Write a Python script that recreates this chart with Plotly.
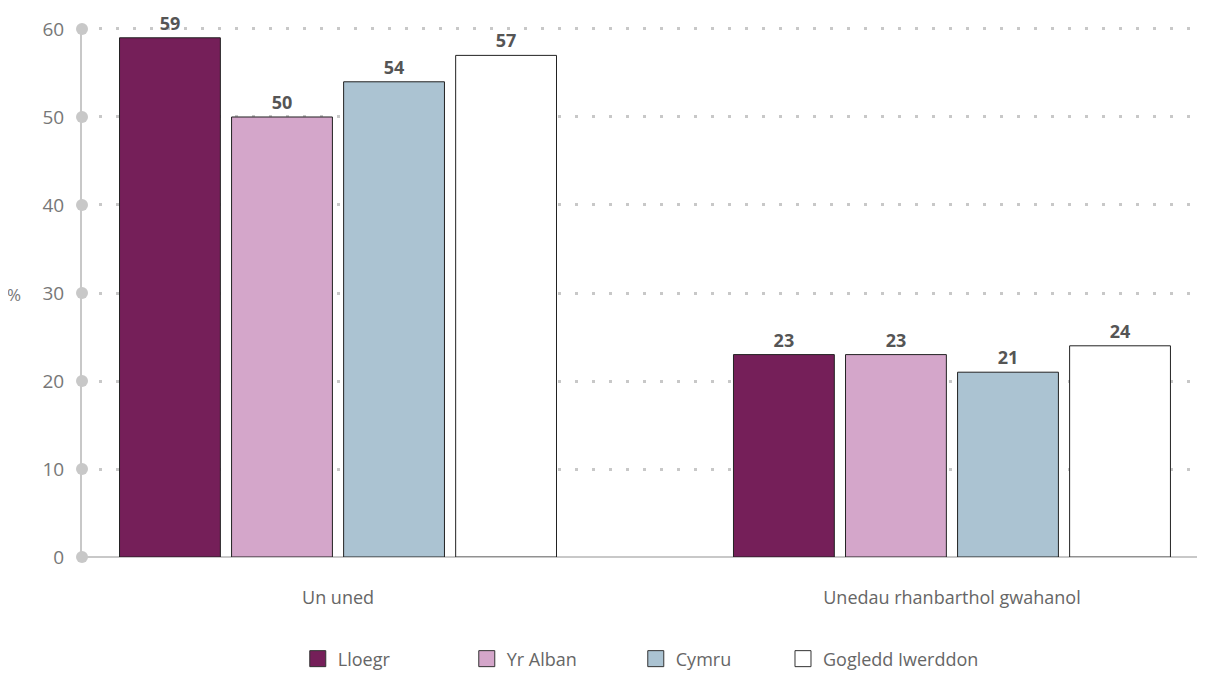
import plotly.graph_objects as go

categories = ["Un uned", "Unedau rhanbarthol gwahanol"]
series_names = ["Lloegr", "Yr Alban", "Cymru", "Gogledd Iwerddon"]
values = {
    "Lloegr": [59, 23],
    "Yr Alban": [50, 23],
    "Cymru": [54, 21],
    "Gogledd Iwerddon": [57, 24],
}
colors = {
    "Lloegr": "#751f59",
    "Yr Alban": "#d4a6ca",
    "Cymru": "#abc3d2",
    "Gogledd Iwerddon": "#ffffff",
}
y_ticks = [0, 10, 20, 30, 40, 50, 60]

FONT = "Open Sans"
xpos = list(range(len(categories)))
fig = go.Figure()
for i, name in enumerate(series_names):
    fig.add_trace(go.Bar(
        x=xpos, y=values[name], name=name,
        marker=dict(color=colors[name], line=dict(color="#222222", width=1)),
        texttemplate="<b>%{y}</b>", textposition="outside",
        textfont=dict(size=18, color="#555555", family=FONT),
        cliponaxis=False, showlegend=False,
    ))
    fig.add_trace(go.Scatter(
        x=[None], y=[None], mode="markers", name=name,
        marker=dict(symbol="square", size=16, color=colors[name],
                    line=dict(color="#333333", width=1)),
        showlegend=True, legend="legend2" if i == 3 else "legend",
    ))

XMIN, XMAX = -0.417, 1.404
fig.add_trace(go.Scatter(
    x=[XMIN] * len(y_ticks), y=y_ticks, mode="markers",
    marker=dict(size=12, color="#c8c8c8"), cliponaxis=False,
    showlegend=False, hoverinfo="skip",
))

legend_font = dict(size=18, color="#666666", family=FONT)
fig.update_layout(
    width=1205, height=683,
    margin=dict(l=74, r=13, t=18, b=134),
    plot_bgcolor="white", paper_bgcolor="white",
    barmode="group", bargap=0.27, bargroupgap=0.1,
    font=dict(family=FONT, color="#666666", size=18),
    legend=dict(orientation="h", x=0.193, xanchor="left", y=-0.192, yanchor="middle",
                font=legend_font, entrywidth=124, itemclick=False),
    legend2=dict(orientation="h", x=0.627, xanchor="left", y=-0.192, yanchor="middle",
                 font=legend_font, itemclick=False),
    annotations=[dict(text="%", xref="paper", yref="paper", x=-0.061, y=0.495,
                      xanchor="center", yanchor="middle", showarrow=False,
                      font=dict(size=17, color="#777777"))],
)
fig.update_xaxes(
    range=[XMIN, XMAX], showgrid=False, automargin=False,
    tickvals=xpos, ticktext=categories,
    showline=False, ticks="", ticklabelstandoff=28,
    tickfont=dict(size=18, color="#666666"),
    zeroline=False,
)
fig.update_yaxes(
    range=[0, 60.34], tickvals=y_ticks, showgrid=True, automargin=False,
    gridcolor="#c8c8c8", gridwidth=3, griddash="3px,14px",
    showline=True, linecolor="#c8c8c8", linewidth=2,
    zeroline=True, zerolinecolor="#c8c8c8", zerolinewidth=2,
    ticks="", ticklabelstandoff=12,
    tickfont=dict(size=19, color="#777777"),
)
fig.write_html("out.html")
